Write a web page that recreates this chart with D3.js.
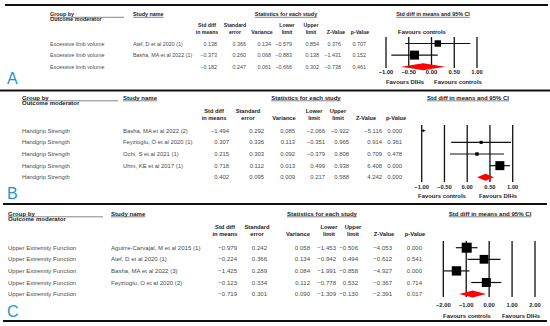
<!DOCTYPE html>
<html><head><meta charset="utf-8">
<script src="https://cdn.jsdelivr.net/npm/d3@7"></script>
<style>body{margin:0;background:#fff} svg{display:block}</style>
</head><body><svg id="c" width="550" height="326"></svg>
<script>
// ---------- data ----------
const headLine1 = ["Std diff", "Standard", "", "Lower", "Upper", "", ""];
const headLine2 = ["in means", "error", "Variance", "limit", "limit", "Z-Value", "p-Value"];

// Panel A
const outcomeA = "Excessive limb volume";
const studiesA = ["Atef, D et al 2020 (1)", "Basha, MA et al 2022 (1)", ""];
const smdA   = [0.138, -0.373, -0.182];
const seA    = [0.366, 0.260, 0.247];
const varA   = [0.134, 0.068, 0.061];
const lowerA = [-0.579, -0.883, -0.666];
const upperA = [0.854, 0.138, 0.302];
const zA     = [0.376, -1.431, -0.738];
const pA     = [0.707, 0.152, 0.461];
const ticksA = [-1, -0.5, 0, 0.5, 1];

// Panel B
const outcomeB = "Handgrip Strength";
const studiesB = ["Basha, MA et al 2022 (2)", "Feyzioglu, Ö et al 2020 (1)", "Ochi, S et al 2021 (1)", "Uhm, KE et al 2017 (1)", ""];
const smdB   = [-1.494, 0.307, 0.215, 0.718, 0.402];
const seB    = [0.292, 0.336, 0.303, 0.112, 0.095];
const varB   = [0.085, 0.113, 0.092, 0.013, 0.009];
const lowerB = [-2.066, -0.351, -0.379, 0.499, 0.217];
const upperB = [-0.922, 0.965, 0.808, 0.938, 0.588];
const zB     = [-5.116, 0.914, 0.709, 6.408, 4.242];
const pB     = [0.000, 0.361, 0.478, 0.000, 0.000];
const ticksB = [-1, -0.5, 0, 0.5, 1];

// Panel C
const outcomeC = "Upper Extremity Function";
const studiesC = ["Aguirre-Carvajal, M et al 2015 (1)", "Atef, D et al 2020 (1)", "Basha, MA et al 2022 (3)", "Feyzioglu, O et al 2020 (2)", ""];
const smdC   = [-0.979, -0.224, -1.425, -0.123, -0.719];
const seC    = [0.242, 0.366, 0.289, 0.334, 0.301];
const varC   = [0.058, 0.134, 0.084, 0.112, 0.090];
const lowerC = [-1.453, -0.942, -1.991, -0.778, -1.309];
const upperC = [-0.506, 0.494, -0.858, 0.532, -0.130];
const zC     = [-4.053, -0.612, -4.927, -0.367, -2.391];
const pC     = [0.000, 0.541, 0.000, 0.714, 0.017];
const ticksC = [-2, -1, 0, 1, 2];

// ---------- layout ----------
const layoutA = {label:"A", labelY:84, groupX:50, groupLineEnd:124, studyX:133, titleY:16, ulY:17.3, subY:21,
  statsX:286, forestTitleX:433, headY1:27, headY2:33.5,
  colRight:[217,246,271,292,319,341,366], colHead:[207,235,262,287,311,336,360],
  rowY0:43.5, rowStep:11.6, xRange:[386,477], gridTop:37, gridBot:68, tickY:74, favY:84,
  favLeft:"Favours DIHs", favLeftX:405, favRight:"Favours controls", favRightX:458,
  extraTop:{text:"Favours controls", x:422, y:34}, size:{type:"sqrt", range:[0,9]},
  fs:5.4, fh:5.2, ft:5.4};
const layoutB = {label:"B", labelY:199, groupX:22, groupLineEnd:118, studyX:123, titleY:99.5, ulY:100.8, subY:105,
  statsX:306, forestTitleX:468, headY1:112.7, headY2:120,
  colRight:[229,264,295,325,349,382,402], colHead:[214,248,284,314,338,366,396],
  rowY0:130.7, rowStep:11.65, xRange:[421.7,512.7], gridTop:125, gridBot:182, tickY:189.3, favY:198,
  favLeft:"Favours controls", favLeftX:442, favRight:"Favours DIHs", favRightX:498,
  extraTop:null, size:{type:"sqrt", range:[0,9]},
  fs:5.9, fh:5.7, ft:6.0};
const layoutC = {label:"C", labelY:316.5, groupX:8, groupLineEnd:103, studyX:111, titleY:215.5, ulY:216.8, subY:221,
  statsX:322, forestTitleX:490, headY1:228.7, headY2:236.3,
  colRight:[237,267,310,336,358,392,422], colHead:[225,257,298,329,353,384,415],
  rowY0:247.7, rowStep:11.6, xRange:[443.3,535], gridTop:241, gridBot:297, tickY:307, favY:318,
  favLeft:"Favours controls", favLeftX:467, favRight:"Favours DIHs", favRightX:521,
  extraTop:null, size:{type:"linear", range:[8.8,10]},
  fs:6.05, fh:5.8, ft:6.05};

const panels = [
  {L:layoutA, outcome:outcomeA, studies:studiesA, cols:[smdA,seA,varA,lowerA,upperA,zA,pA], ticks:ticksA},
  {L:layoutB, outcome:outcomeB, studies:studiesB, cols:[smdB,seB,varB,lowerB,upperB,zB,pB], ticks:ticksB},
  {L:layoutC, outcome:outcomeC, studies:studiesC, cols:[smdC,seC,varC,lowerC,upperC,zC,pC], ticks:ticksC}
];

const svg = d3.select("#c");
const FONT = "'Liberation Sans', Arial, sans-serif";
const f3 = d3.format(".3f"), f2 = d3.format(".2f");

// thick separator lines
const sepLines = [{y:5, x1:5, x2:548}, {y:90.5, x1:0, x2:550}, {y:204, x1:3, x2:547}, {y:321, x1:3, x2:547}];
svg.selectAll("line.sep").data(sepLines).join("line").attr("class","sep")
  .attr("x1",d=>d.x1).attr("x2",d=>d.x2).attr("y1",d=>d.y).attr("y2",d=>d.y)
  .attr("stroke","#111").attr("stroke-width",2.2);

function underlinedText(g, x, y, txt, anchor, fsz) {
  const t = g.append("text").attr("x",x).attr("y",y).attr("text-anchor",anchor)
    .attr("font-family",FONT).attr("font-size",fsz).attr("font-weight","bold").attr("fill","#222").text(txt);
  const w = t.node().getComputedTextLength();
  const x0 = anchor === "middle" ? x - w/2 : x;
  g.append("line").attr("x1",x0).attr("x2",x0+w).attr("y1",y+1.3).attr("y2",y+1.3)
    .attr("stroke","#333").attr("stroke-width",0.6);
}

panels.forEach(P => {
  const L = P.L;
  const g = svg.append("g");
  const n = P.studies.length;
  const rowY = i => L.rowY0 + i*L.rowStep;

  // panel letter
  g.append("text").attr("x",7).attr("y",L.labelY).attr("font-family",FONT).attr("font-size",16)
    .attr("fill","#1a96d8").text(L.label);

  // header
  g.append("text").attr("x",L.groupX).attr("y",L.titleY).attr("font-family",FONT).attr("font-size",L.ft)
    .attr("font-weight","bold").attr("fill","#222").text("Group by");
  g.append("line").attr("x1",L.groupX).attr("x2",L.groupLineEnd).attr("y1",L.ulY).attr("y2",L.ulY)
    .attr("stroke","#333").attr("stroke-width",0.6);
  g.append("text").attr("x",L.groupX).attr("y",L.subY).attr("font-family",FONT).attr("font-size",L.ft)
    .attr("font-weight","bold").attr("fill","#222").text("Outcome moderator");
  underlinedText(g, L.studyX, L.titleY, "Study name", "start", L.ft);
  underlinedText(g, L.statsX, L.titleY, "Statistics for each study", "middle", L.ft);
  underlinedText(g, L.forestTitleX, L.titleY, "Std diff in means and 95% CI", "middle", L.ft);

  headLine1.forEach((h,j) => {
    g.append("text").attr("x",L.colHead[j]).attr("y",L.headY1).attr("text-anchor","middle")
      .attr("font-family",FONT).attr("font-size",L.fh).attr("font-weight","bold").attr("fill","#222").text(h);
    g.append("text").attr("x",L.colHead[j]).attr("y",L.headY2).attr("text-anchor","middle")
      .attr("font-family",FONT).attr("font-size",L.fh).attr("font-weight","bold").attr("fill","#222").text(headLine2[j]);
  });

  // rows
  P.studies.forEach((s,i) => {
    const y = rowY(i) + 2;
    g.append("text").attr("x",L.groupX).attr("y",y).attr("font-family",FONT).attr("font-size",L.fs)
      .attr("fill","#4a4a4a").text(P.outcome);
    if (s) g.append("text").attr("x",L.studyX).attr("y",y).attr("font-family",FONT).attr("font-size",L.fs)
      .attr("fill","#4a4a4a").text(s);
    P.cols.forEach((col,j) => {
      g.append("text").attr("x",L.colRight[j]).attr("y",y).attr("text-anchor","end")
        .attr("font-family",FONT).attr("font-size",L.fs).attr("fill","#4a4a4a").text(f3(col[i]));
    });
  });

  // forest plot
  const x = d3.scaleLinear().domain(d3.extent(P.ticks)).range(L.xRange);
  const [dmin, dmax] = x.domain();
  g.selectAll("line.grid").data(P.ticks).join("line")
    .attr("x1",d=>x(d)).attr("x2",d=>x(d)).attr("y1",L.gridTop).attr("y2",L.gridBot)
    .attr("stroke","#111").attr("stroke-width",1.3);
  g.selectAll("text.tick").data(P.ticks).join("text")
    .attr("x",d=>x(d)).attr("y",L.tickY).attr("text-anchor","middle")
    .attr("font-family",FONT).attr("font-size",5.8).attr("font-weight","bold").attr("fill","#222").text(d=>f2(d));
  g.append("text").attr("x",L.favLeftX).attr("y",L.favY).attr("text-anchor","middle")
    .attr("font-family",FONT).attr("font-size",5.9).attr("font-weight","bold").attr("fill","#222").text(L.favLeft);
  g.append("text").attr("x",L.favRightX).attr("y",L.favY).attr("text-anchor","middle")
    .attr("font-family",FONT).attr("font-size",5.9).attr("font-weight","bold").attr("fill","#222").text(L.favRight);
  if (L.extraTop) g.append("text").attr("x",L.extraTop.x).attr("y",L.extraTop.y).attr("text-anchor","middle")
    .attr("font-family",FONT).attr("font-size",5.9).attr("font-weight","bold").attr("fill","#222").text(L.extraTop.text);

  const smd = P.cols[0], vr = P.cols[2], lo = P.cols[3], up = P.cols[4];
  const weights = vr.slice(0, n-1).map(v => 1/v);
  const sz = (L.size.type === "sqrt" ? d3.scaleSqrt().domain([0, d3.max(weights)])
             : d3.scaleLinear().domain(d3.extent(weights))).range(L.size.range);
  for (let i = 0; i < n-1; i++) {
    const y = rowY(i);
    const a = Math.max(lo[i], dmin), b = Math.min(up[i], dmax);
    if (b > a) g.append("line").attr("x1",x(a)).attr("x2",x(b)).attr("y1",y).attr("y2",y)
      .attr("stroke","#111").attr("stroke-width",1.2);
    if (lo[i] < dmin) g.append("path")
      .attr("d",`M${x(dmin)},${y}l2.2,-1.6v3.2z`).attr("fill","#111");
    if (smd[i] >= dmin && smd[i] <= dmax) {
      const s = sz(weights[i]);
      g.append("rect").attr("x",x(smd[i])-s/2).attr("y",y-s/2).attr("width",s).attr("height",s).attr("fill","#000");
    }
  }
  const k = n-1, yk = rowY(k);
  g.append("path").attr("d",`M${x(lo[k])},${yk}L${x(smd[k])},${yk-3.5}L${x(up[k])},${yk}L${x(smd[k])},${yk+3.5}Z`)
    .attr("fill","#f00");
});
</script>
</body></html>
